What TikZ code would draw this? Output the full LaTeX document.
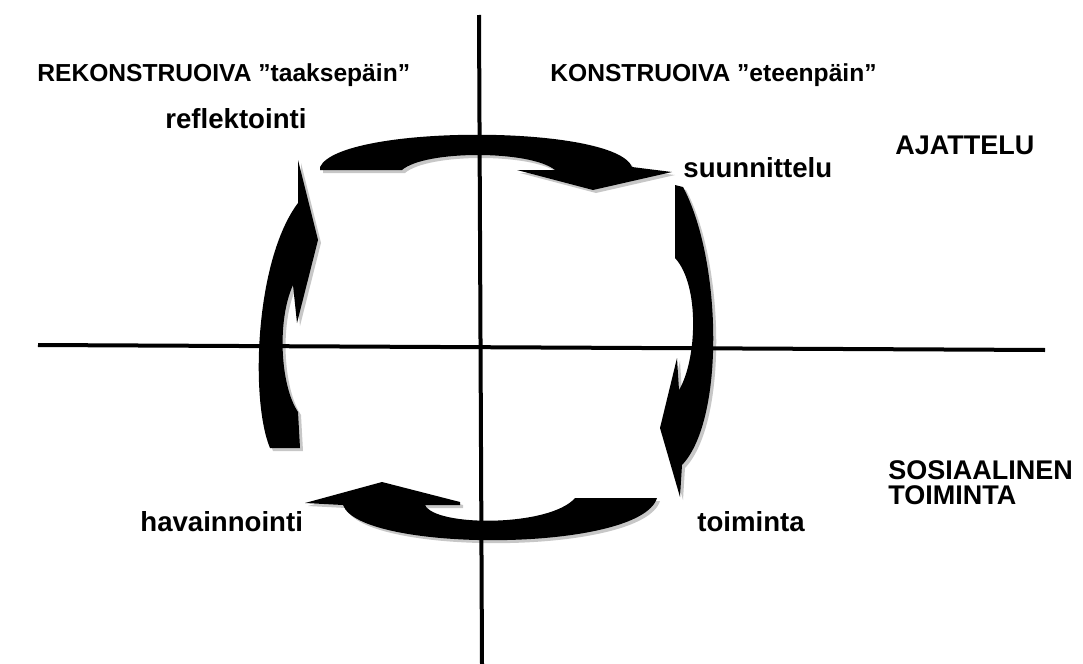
\documentclass[tikz,border=0pt]{standalone}
\usepackage{fontspec}
\setmainfont{Liberation Sans}
\usetikzlibrary{shadows}

\tikzset{
  label/.style={anchor=west, inner sep=0pt},
  titlelabel/.style={label, font=\bfseries\fontsize{12.3}{12.3}\selectfont},
  sidelabel/.style={label, font=\bfseries\fontsize{13.5}{12.5}\selectfont},
  phaselabel/.style={label, font=\bfseries\fontsize{13.8}{14}\selectfont},
  axis/.style={line width=2pt, black},
  cyclearrow/.style={fill=black, draw=none,
    drop shadow={shadow xshift=1.5pt, shadow yshift=-1.5pt, opacity=.22, fill=black}}
}

\begin{document}
\begin{tikzpicture}[x=0.5pt, y=-0.5pt]
  \useasboundingbox (0,0) rectangle (1083,664);

  % Akselit.
  \coordinate (ytop) at (479,15);
  \coordinate (ybot) at (482,664);
  \coordinate (xleft) at (38,345);
  \coordinate (xright) at (1045,350);
  \draw[axis] (ytop) -- (ybot);
  \draw[axis] (xleft) -- (xright);

  % Yläkaari: reflektointi -> suunnittelu.
  \fill[cyclearrow] (320,167) .. controls (340,124) and (615,124) .. (632,167)
       -- (672,172) -- (593,190) -- (517,170) -- (555,170)
       .. controls (530,150) and (425,150) .. (402,170) -- (320,170) -- cycle;

  % Oikea kaari: suunnittelu -> toiminta.
  \fill[cyclearrow] (675,185) -- (683,187) .. controls (722,260) and (725,420) .. (682,465)
       -- (680,497) -- (660,428) -- (677,358) -- (679,390)
       .. controls (697,360) and (700,285) .. (675,258) -- cycle;

  % Alakaari: toiminta -> havainnointi.
  \fill[cyclearrow] (657,498) .. controls (640,553) and (360,553) .. (343,505)
       -- (305,503) -- (382,482) -- (460,502) -- (460,505) -- (425,505)
       .. controls (435,527) and (550,527) .. (575,498) -- cycle;

  % Vasen kaari: havainnointi -> reflektointi.
  \fill[cyclearrow] (298,160) -- (318,240) -- (297,323) -- (293,285)
       .. controls (277,320) and (280,385) .. (298,412) -- (300,448) -- (270,448)
       .. controls (250,400) and (255,260) .. (298,203) -- cycle;

  % Otsikot.
  \node[titlelabel] (rekon) at (37,75) {REKONSTRUOIVA ”taaksepäin”};
  \node[titlelabel] (kons) at (550,75) {KONSTRUOIVA ”eteenpäin”};
  \node[sidelabel] (ajat) at (895,145) {AJATTELU};
  \node[sidelabel, align=left] (sos) at (888,483) {SOSIAALINEN\\TOIMINTA};

  % Vaiheet.
  \node[phaselabel] (refl) at (165,119) {reflektointi};
  \node[phaselabel] (suun) at (683,168) {suunnittelu};
  \node[phaselabel] (toim) at (697,522) {toiminta};
  \node[phaselabel] (hava) at (140,522) {havainnointi};

\end{tikzpicture}
\end{document}
